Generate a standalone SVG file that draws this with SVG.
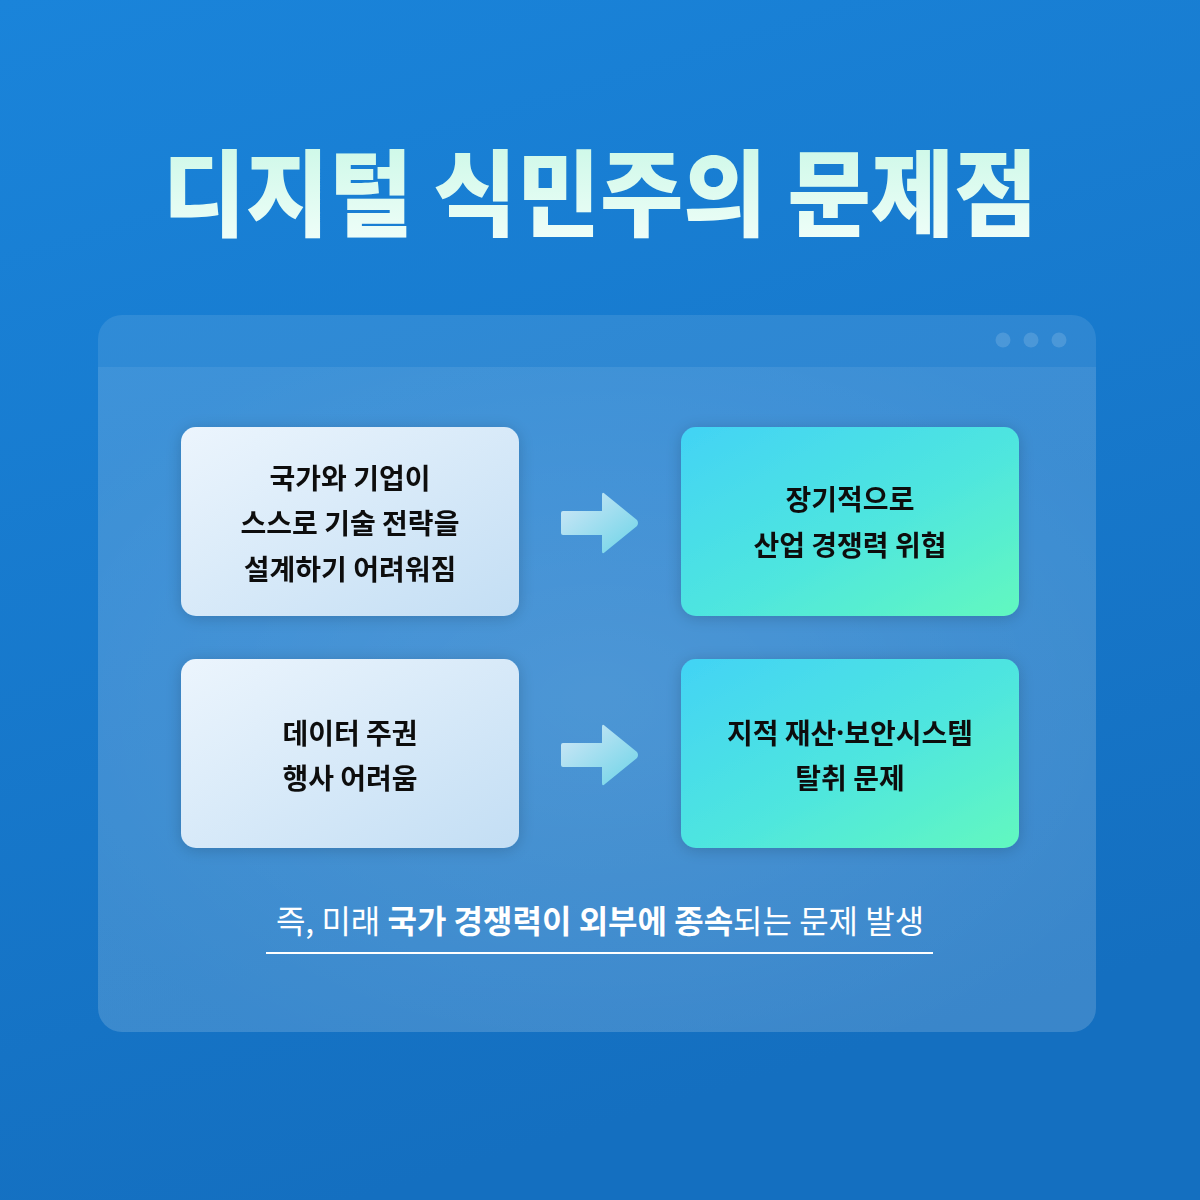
<svg xmlns="http://www.w3.org/2000/svg" width="1200" height="1200" viewBox="0 0 1200 1200">
<defs>
<linearGradient id="bg" x1="0" y1="0" x2="0.3" y2="1">
<stop offset="0" stop-color="#1a84da"/>
<stop offset="1" stop-color="#146fc0"/>
</linearGradient>
<linearGradient id="title" x1="0" y1="0" x2="0" y2="1">
<stop offset="0" stop-color="#c6f7e4"/>
<stop offset="1" stop-color="#f4fffb"/>
</linearGradient>
<radialGradient id="glow" cx="0.5" cy="0.5" r="0.6">
<stop offset="0" stop-color="#ffffff" stop-opacity="0.15"/>
<stop offset="1" stop-color="#ffffff" stop-opacity="0.07"/>
</radialGradient>
<linearGradient id="lbox" x1="0" y1="0" x2="1" y2="1">
<stop offset="0" stop-color="#ecf5fd"/>
<stop offset="1" stop-color="#c3def4"/>
</linearGradient>
<linearGradient id="rbox" x1="0" y1="0" x2="1" y2="1">
<stop offset="0" stop-color="#42d3f5"/>
<stop offset="0.55" stop-color="#4fe6de"/>
<stop offset="1" stop-color="#62f8bf"/>
</linearGradient>
<linearGradient id="arw" x1="0" y1="0" x2="1" y2="1">
<stop offset="0" stop-color="#e4f1fb" stop-opacity="0.9"/>
<stop offset="1" stop-color="#6fdbe9" stop-opacity="0.9"/>
</linearGradient>
<filter id="sh" x="-20%" y="-20%" width="140%" height="140%">
<feGaussianBlur in="SourceAlpha" stdDeviation="8"/>
<feOffset dy="2"/>
<feComponentTransfer><feFuncA type="linear" slope="0.18"/></feComponentTransfer>
<feMerge><feMergeNode/><feMergeNode in="SourceGraphic"/></feMerge>
</filter>
<clipPath id="pc"><rect x="98" y="315" width="998" height="717" rx="24"/></clipPath>
</defs>
<style>
.t{font-family:"Noto Sans CJK KR","Noto Sans",sans-serif;font-weight:700;font-size:28px;fill:#111;text-anchor:middle;dominant-baseline:central}
.f{font-family:"Noto Sans CJK KR","Noto Sans",sans-serif;font-size:32px;fill:#fff}
.b{font-weight:700}
.d{font-family:"Noto Sans",sans-serif}
</style>
<rect width="1200" height="1200" fill="url(#bg)"/>
<g id="title-g">
<text x="600" y="229" font-family="'Noto Sans CJK KR',sans-serif" font-weight="900" font-size="94" fill="url(#title)" text-anchor="middle" textLength="875" lengthAdjust="spacingAndGlyphs">디지털 식민주의 문제점</text>
</g>
<g id="panel">
<rect x="98" y="315" width="998" height="717" rx="24" fill="#ffffff" fill-opacity="0.1"/>
<g clip-path="url(#pc)">
<rect x="98" y="367" width="998" height="665" fill="url(#glow)"/>
</g>
<circle cx="1003" cy="340" r="7.5" fill="#ffffff" fill-opacity="0.14"/>
<circle cx="1031" cy="340" r="7.5" fill="#ffffff" fill-opacity="0.14"/>
<circle cx="1059" cy="340" r="7.5" fill="#ffffff" fill-opacity="0.14"/>
</g>
<g id="box1" filter="url(#sh)">
<rect x="181" y="427" width="338" height="189" rx="15" fill="url(#lbox)"/>
<text class="t" x="350" y="477">국가와 기업이</text>
<text class="t" x="350" y="522">스스로 기술 전략을</text>
<text class="t" x="350" y="568">설계하기 어려워짐</text>
</g>
<g id="box2" filter="url(#sh)">
<rect x="681" y="427" width="338" height="189" rx="15" fill="url(#rbox)"/>
<text class="t" x="850" y="498">장기적으로</text>
<text class="t" x="850" y="544">산업 경쟁력 위협</text>
</g>
<g id="box3" filter="url(#sh)">
<rect x="181" y="659" width="338" height="189" rx="15" fill="url(#lbox)"/>
<text class="t" x="350" y="732">데이터 주권</text>
<text class="t" x="350" y="777">행사 어려움</text>
</g>
<g id="box4" filter="url(#sh)">
<rect x="681" y="659" width="338" height="189" rx="15" fill="url(#rbox)"/>
<text class="t" x="850" y="732">지적 재산<tspan class="d">·</tspan>보안시스템</text>
<text class="t" x="850" y="777">탈취 문제</text>
</g>
<g id="connectors">
<path d="M563,511 H602 V495 Q602,491 605,494 L637,520 Q639,523 637,526 L605,552 Q602,555 602,551 V535 H563 Q561,535 561,533 V513 Q561,511 563,511 Z" fill="url(#arw)"/>
<path d="M563,743 H602 V727 Q602,723 605,726 L637,752 Q639,755 637,758 L605,784 Q602,787 602,783 V767 H563 Q561,767 561,765 V745 Q561,743 563,743 Z" fill="url(#arw)"/>
</g>
<g id="summary">
<text class="f" x="600" y="933" text-anchor="middle">즉, 미래 <tspan class="b">국가 경쟁력이 외부에 종속</tspan>되는 문제 발생</text>
<line x1="266" y1="953" x2="933" y2="953" stroke="#ffffff" stroke-width="2"/>
</g>
</svg>
